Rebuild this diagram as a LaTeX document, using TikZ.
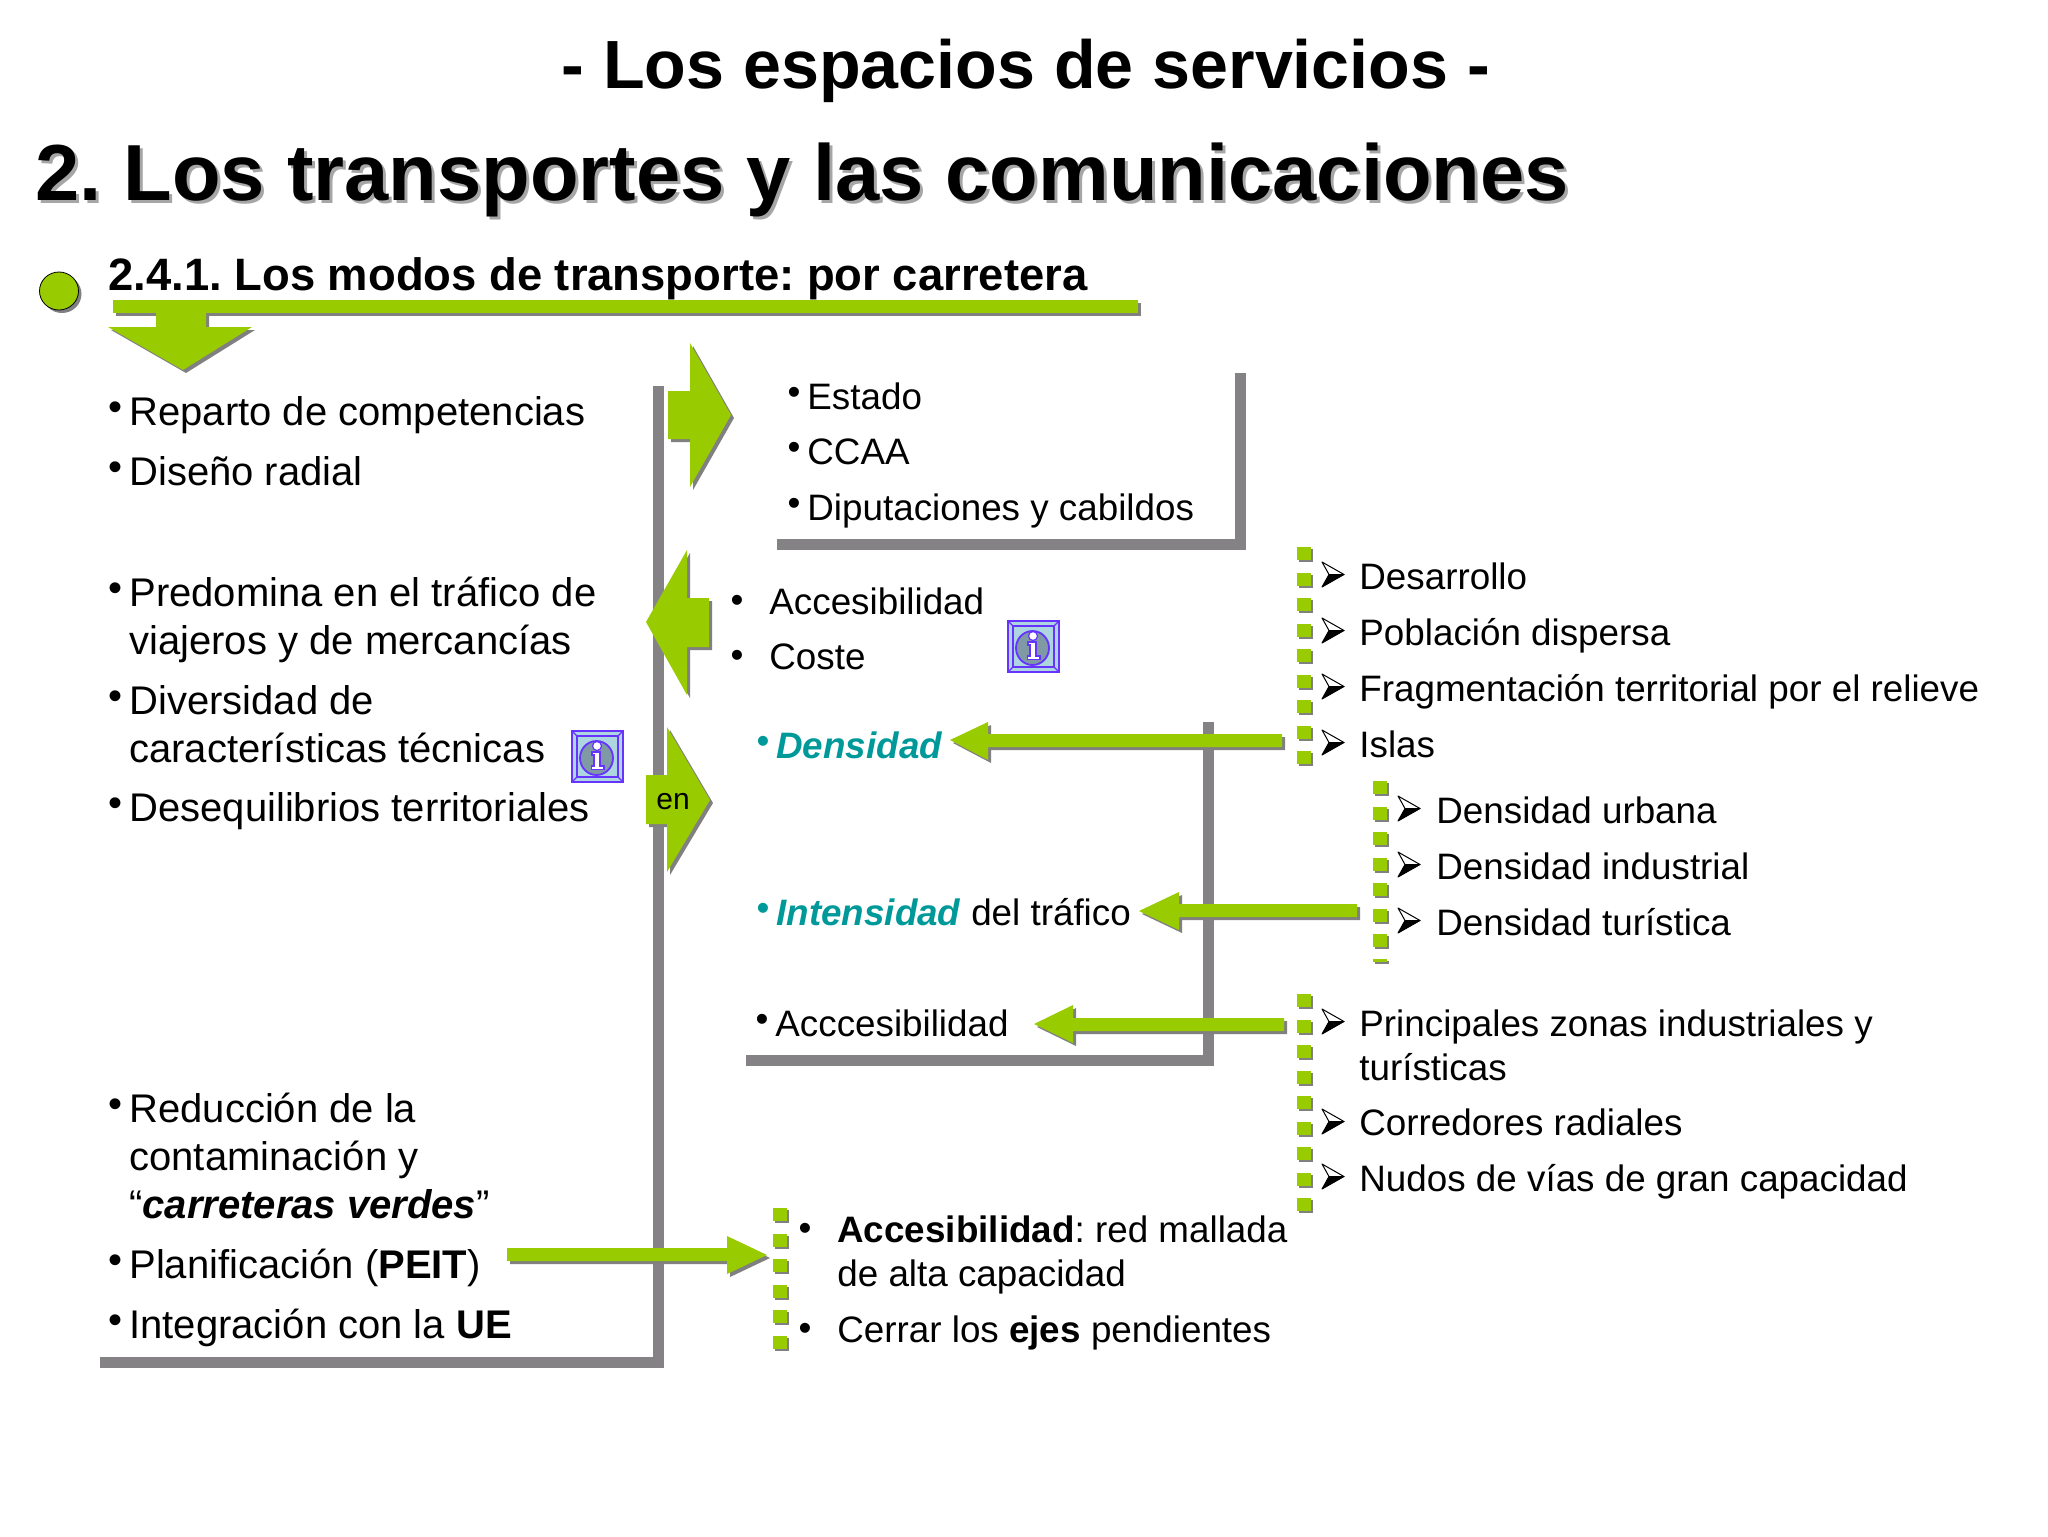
\documentclass[tikz,border=0pt]{standalone}
\usepackage{fontspec}
\setmainfont{Liberation Sans}
\usepackage{xcolor}
\usetikzlibrary{shadows}

\definecolor{leafgreen}{HTML}{99CC00}
\definecolor{framegray}{HTML}{858285}
\definecolor{shadegray}{HTML}{808080}
\definecolor{densteal}{HTML}{009999}
\definecolor{iconblue}{HTML}{AED6E0}
\definecolor{iconpurple}{HTML}{6633FF}
\definecolor{icongray}{HTML}{7F9AA5}

\newcommand{\bu}{\llap{\raisebox{.12em}{•}\kern 3.5pt}}
\newcommand{\buwide}{\llap{\raisebox{.03em}{•}\kern 13pt}}

\frenchspacing

\tikzset{
    blockarrow/.style={fill=leafgreen, drop shadow={shadow xshift=1.5pt, shadow yshift=-1.5pt, fill=shadegray, opacity=1}},
    dotbox/.style={fill=leafgreen, drop shadow={shadow xshift=1pt, shadow yshift=-1pt, fill=shadegray, opacity=1}},
    frameline/.style={draw=framegray, line width=5.5pt},
    big/.style={anchor=base west, inner sep=0pt, align=left, font=\fontsize{20}{24}\selectfont},
    small/.style={anchor=base west, inner sep=0pt, align=left, font=\fontsize{18.4}{22}\selectfont},
    headline/.style={anchor=base west, inner sep=0pt, font=\bfseries\fontsize{39.76}{44}\selectfont}
}

\begin{document}
\begin{tikzpicture}[x=0.5pt, y=-0.5pt]
    \useasboundingbox (0,0) rectangle (2048,1536);

    \node[headline, font=\bfseries\fontsize{34.1}{40}\selectfont] (toptitle) at (561,89) {- Los espacios de servicios -};
    \node[headline, text=shadegray!70] (mainshade) at (38,203) {2. Los transportes y las comunicaciones};
    \node[headline] (maintitle) at (35,200) {2. Los transportes y las comunicaciones};
    \node[headline, font=\bfseries\fontsize{22.7}{26}\selectfont] (sectiontitle) at (108,290) {2.4.1. Los modos de transporte: por carretera};

    \draw[black, fill=leafgreen, drop shadow={shadow xshift=1.5pt, shadow yshift=-1.5pt, fill=shadegray, opacity=1}] (59,291) ellipse (19.5 and 19);
    \path[blockarrow] (113,300) rectangle (1138,313);
    \path[blockarrow] (156,313) -- (206,313) -- (206,327) -- (252,327) -- (183,370) -- (108,327) -- (156,327) -- cycle;

    \draw[frameline] (658,386) -- (658,1362) -- (100,1362);
    \draw[frameline] (1240,373) -- (1240,544) -- (777,544);
    \draw[frameline] (1208,722) -- (1208,1060) -- (746,1060);

    \path[blockarrow] (668,391) -- (690,391) -- (690,343) -- (731,415) -- (690,487) -- (690,439) -- (668,439) -- cycle;
    \path[blockarrow] (709,598) -- (687,598) -- (687,550) -- (646,622) -- (687,695) -- (687,647) -- (709,647) -- cycle;
    \path[blockarrow] (646,775) -- (667,775) -- (667,727) -- (710,800) -- (667,872) -- (667,824) -- (646,824) -- cycle;
    \path[blockarrow] (1282,734) -- (988,734) -- (988,722) -- (950,740) -- (988,760) -- (988,747) -- (1282,747) -- cycle;
    \path[blockarrow] (1357,904) -- (1179,904) -- (1179,892) -- (1139,911) -- (1179,930) -- (1179,917) -- (1357,917) -- cycle;
    \path[blockarrow] (1284,1018) -- (1073,1018) -- (1073,1005) -- (1034,1024) -- (1073,1043) -- (1073,1031) -- (1284,1031) -- cycle;
    \path[blockarrow] (507,1248) -- (727,1248) -- (727,1236) -- (767,1255) -- (727,1274) -- (727,1261) -- (507,1261) -- cycle;

    \foreach \k in {0,...,8} {
        \path[dotbox] (1297,{547+25.5*\k}) rectangle +(14,13);
        \path[dotbox] (1297,{994+25.5*\k}) rectangle +(14,13);
    }
    \foreach \k in {0,...,6} {
        \path[dotbox] (1373,{781+25.5*\k}) rectangle +(14,13);
    }
    \path[dotbox] (1373,959) rectangle +(14,3);
    \foreach \k in {0,...,5} {
        \path[dotbox] (773,{1208+25.5*\k}) rectangle +(14,13);
    }

    \foreach \ax/\ay in {1322/562,1322/618,1322/674,1322/730,1398/796,1398/852,1398/908,1322/1009,1322/1109,1322/1164} {
        \draw[black, fill=white, line width=0.5pt, line join=round] (\ax,\ay) -- ++(22,12.5) -- ++(-15,0) -- cycle;
        \draw[black, fill=black, line width=0.5pt, line join=round] (\ax+7,\ay+12.5) -- ++(15,0) -- ++(-22,12.5) -- cycle;
    }

    \foreach \ix/\iy in {1008/621,572/731} {
        \begin{scope}[shift={(\ix,\iy)}]
            \draw[iconpurple, fill=iconblue, line width=1.2pt] (0,0) rectangle (51,51);
            \draw[iconpurple, line width=0.8pt] (5,5) rectangle (46,46);
            \draw[iconpurple, line width=0.6pt] (0,0) -- (5,5) (51,0) -- (46,5) (0,51) -- (5,46) (51,51) -- (46,46);
            \draw[iconpurple, fill=icongray, line width=0.9pt] (24.5,27) ellipse (16.5 and 17);
            \draw[iconpurple, fill=white, line width=0.6pt] (25,15) circle (4.5);
            \draw[iconpurple, fill=white, line width=0.7pt] (20,21) -- (28,21) -- (28,35) -- (32,35) -- (32,38.5) -- (19.5,38.5) -- (19.5,35) -- (22,35) -- (22,24) -- (20,24) -- cycle;
        \end{scope}
    }

    \node[big] (reparto) at (129,425) {\bu Reparto de competencias};
    \node[big] (radial) at (129,485) {\bu Diseño radial};
    \node[big] (predomina) at (129,654) {\bu Predomina en el tráfico de\\viajeros y de mercancías};
    \node[big] (diversidad) at (129,762) {\bu Diversidad de\\características técnicas};
    \node[big] (desequilibrios) at (129,821) {\bu Desequilibrios territoriales};
    \node[big] (reduccion) at (129,1218) {\bu Reducción de la\\contaminación y\\“\textbf{\textit{carreteras verdes}}”};
    \node[big] (peit) at (129,1278) {\bu Planificación (\textbf{PEIT})};
    \node[big] (ue) at (129,1338) {\bu Integración con la \textbf{UE}};

    \node[small] (estado) at (807,409) {\bu Estado};
    \node[small] (ccaa) at (807,464) {\bu CCAA};
    \node[small] (diputaciones) at (807,520) {\bu Diputaciones y cabildos};
    \node[small] (accesibilidad) at (769,614) {\buwide Accesibilidad};
    \node[small] (coste) at (769,669) {\buwide Coste};
    \node[small, font=\fontsize{15}{18}\selectfont] (en) at (656,809) {en};

    \node[small, text=densteal] (densidad) at (776,758) {\bu\textbf{\textit{Densidad}}};
    \node[small] (intensidad) at (776,925) {\textcolor{densteal}{\bu\textbf{\textit{Intensidad}}} del tráfico};
    \node[small] (acccesibilidad) at (775,1036) {\bu Acccesibilidad};

    \node[small] (desarrollo) at (1359,589) {Desarrollo};
    \node[small] (poblacion) at (1359,645) {Población dispersa};
    \node[small] (fragmentacion) at (1359,701) {Fragmentación territorial por el relieve};
    \node[small] (islas) at (1359,757) {Islas};

    \node[small] (urbana) at (1436,823) {Densidad urbana};
    \node[small] (industrial) at (1436,879) {Densidad industrial};
    \node[small] (turistica) at (1436,935) {Densidad turística};

    \node[small] (zonas) at (1359,1080) {Principales zonas industriales y\\turísticas};
    \node[small] (corredores) at (1359,1135) {Corredores radiales};
    \node[small] (nudos) at (1359,1191) {Nudos de vías de gran capacidad};

    \node[small] (mallada) at (837,1286) {\buwide \textbf{Accesibilidad}: red mallada\\de alta capacidad};
    \node[small] (ejes) at (837,1342) {\buwide Cerrar los \textbf{ejes} pendientes};
\end{tikzpicture}
\end{document}
